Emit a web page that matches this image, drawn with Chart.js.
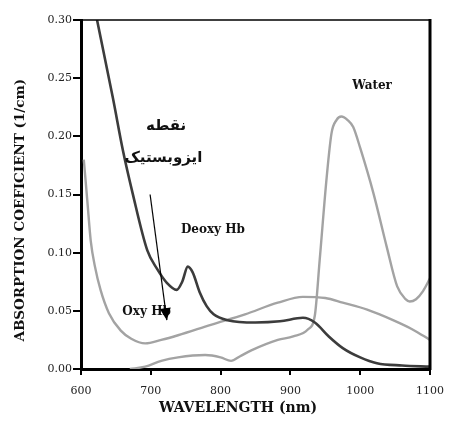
<!DOCTYPE html>
<html>
<head>
<meta charset="utf-8">
<script src="https://cdn.jsdelivr.net/npm/chart.js@4.4.1/dist/chart.umd.min.js"></script>
<style>
html,body{margin:0;padding:0;background:#fff;}
canvas{display:block;}
</style>
</head>
<body>
<canvas id="c" width="450" height="421"></canvas>
<script>
// ---- data (wavelength nm, absorption coefficient 1/cm) ----
const deoxyNm  = [623, 646, 660, 674, 695, 709, 723, 737, 745, 753, 760, 770, 780, 790, 810, 850, 885, 918, 935, 955, 975, 1000, 1024, 1060, 1100];
const deoxyVal = [0.30, 0.232, 0.188, 0.151, 0.102, 0.086, 0.074, 0.068, 0.075, 0.088, 0.083, 0.066, 0.054, 0.047, 0.042, 0.040, 0.041, 0.044, 0.040, 0.028, 0.018, 0.010, 0.005, 0.003, 0.002];

const oxyNm  = [604, 609, 614, 620, 628, 640, 657, 672, 692, 715, 739, 786, 835, 882, 918, 950, 975, 1010, 1047, 1075, 1100];
const oxyVal = [0.18, 0.145, 0.110, 0.088, 0.068, 0.048, 0.033, 0.026, 0.022, 0.025, 0.029, 0.038, 0.047, 0.057, 0.062, 0.061, 0.057, 0.051, 0.042, 0.034, 0.025];

const waterNm  = [670, 692, 715, 739, 778, 800, 815, 828, 844, 882, 904, 925, 935, 942, 952, 959, 966, 973, 982, 990, 1000, 1019, 1038, 1053, 1065, 1071, 1080, 1090, 1100];
const waterVal = [0.0, 0.002, 0.007, 0.010, 0.012, 0.010, 0.007, 0.011, 0.016, 0.025, 0.028, 0.034, 0.046, 0.094, 0.165, 0.203, 0.214, 0.217, 0.214, 0.208, 0.190, 0.151, 0.105, 0.071, 0.060, 0.058, 0.060, 0.067, 0.078];

const xTicks = [600, 700, 800, 900, 1000, 1100];
const yTicks = [0.00, 0.05, 0.10, 0.15, 0.20, 0.25, 0.30];

const xTitle = 'WAVELENGTH (nm)';
const yTitle = 'ABSORPTION COEFICIENT (1/cm)';

// annotation texts anchored in data coordinates
const labelTexts = ["Water", "Deoxy Hb", "Oxy Hb", "نقطه", "ایزوبستیک"];
const labelNm    = [1017, 789, 694, 722, 718];
const labelVal   = [0.243, 0.120, 0.049, 0.209, 0.181];
const arrowNm    = [699, 723];
const arrowVal   = [0.150, 0.042];

const toPts = (xs, ys) => xs.map((x, i) => ({x: x, y: ys[i]}));

const annotPlugin = {
  id: 'annot',
  afterDatasetsDraw(chart) {
    const {ctx, chartArea: a, scales: {x, y}} = chart;
    ctx.save();
    // frame: top and right
    ctx.strokeStyle = '#000';
    ctx.lineWidth = 1.5;
    ctx.beginPath();
    ctx.moveTo(a.left, a.top); ctx.lineTo(a.right, a.top);
    ctx.stroke();
    ctx.lineWidth = 3;
    ctx.beginPath();
    ctx.moveTo(a.right, a.top - 1); ctx.lineTo(a.right, a.bottom + 1);
    ctx.stroke();

    // axis titles
    ctx.fillStyle = '#111';
    ctx.textAlign = 'center';
    ctx.textBaseline = 'middle';
    ctx.font = 'bold 14px "DejaVu Serif", serif';
    ctx.fillText(xTitle, a.left + (a.right - a.left) * 0.45, 408);
    ctx.save();
    ctx.translate(20, a.top + (a.bottom - a.top) * 0.545);
    ctx.rotate(-Math.PI / 2);
    ctx.font = 'bold 13.5px "DejaVu Serif", serif';
    ctx.fillText(yTitle, 0, 0);
    ctx.restore();

    labelTexts.forEach((t, i) => {
      const px = x.getPixelForValue(labelNm[i]);
      const py = y.getPixelForValue(labelVal[i]);
      if (i < 3) ctx.font = 'bold 12px "DejaVu Serif", serif';
      else ctx.font = 'bold 15px "DejaVu Sans", sans-serif';
      ctx.fillText(t, px, py);
    });

    // arrow
    const x0 = x.getPixelForValue(arrowNm[0]), y0 = y.getPixelForValue(arrowVal[0]);
    const x1 = x.getPixelForValue(arrowNm[1]), y1 = y.getPixelForValue(arrowVal[1]);
    ctx.strokeStyle = '#000';
    ctx.lineWidth = 1.2;
    ctx.beginPath(); ctx.moveTo(x0, y0); ctx.lineTo(x1, y1); ctx.stroke();
    const ang = Math.atan2(y1 - y0, x1 - x0);
    const L = 12, W = 5.5;
    ctx.beginPath();
    ctx.moveTo(x1, y1);
    ctx.lineTo(x1 - L*Math.cos(ang) + W*Math.sin(ang), y1 - L*Math.sin(ang) - W*Math.cos(ang));
    ctx.lineTo(x1 - L*Math.cos(ang) - W*Math.sin(ang), y1 - L*Math.sin(ang) + W*Math.cos(ang));
    ctx.closePath();
    ctx.fillStyle = '#000';
    ctx.fill();
    ctx.restore();
  }
};

new Chart(document.getElementById('c'), {
  type: 'line',
  data: {
    datasets: [
      {label: 'Deoxy Hb', data: toPts(deoxyNm, deoxyVal), borderColor: '#3c3c3c', borderWidth: 2.6},
      {label: 'Oxy Hb', data: toPts(oxyNm, oxyVal), borderColor: '#a3a3a3', borderWidth: 2.4},
      {label: 'Water', data: toPts(waterNm, waterVal), borderColor: '#a3a3a3', borderWidth: 2.4}
    ]
  },
  options: {
    responsive: false,
    animation: false,
    devicePixelRatio: 1,
    layout: {padding: {left: 4, top: 20, right: 20, bottom: 0}},
    elements: {
      point: {radius: 0},
      line: {tension: 0.4, cubicInterpolationMode: 'monotone', fill: false}
    },
    plugins: {legend: {display: false}, tooltip: {enabled: false}},
    scales: {
      x: {
        type: 'linear', min: 600, max: 1100,
        afterBuildTicks: s => { s.ticks = xTicks.map(v => ({value: v})); },
        afterFit: s => { s.height = 52; s.paddingLeft = 0; s.paddingRight = 0; },
        ticks: {
          color: '#222', padding: 10,
          font: {family: '"DejaVu Serif", serif', size: 11},
          callback: v => String(v)
        },
        grid: {drawOnChartArea: false, drawTicks: true, tickLength: 6, color: '#000', lineWidth: 2},
        border: {display: true, color: '#000', width: 3},
        title: {display: false, text: xTitle}
      },
      y: {
        type: 'linear', min: 0, max: 0.30,
        afterBuildTicks: s => { s.ticks = yTicks.map(v => ({value: v})); },
        afterFit: s => { s.width = 77; s.paddingTop = 0; s.paddingBottom = 0; },
        ticks: {
          color: '#222', padding: 1,
          font: {family: '"DejaVu Serif", serif', size: 11},
          callback: v => Number(v).toFixed(2)
        },
        grid: {drawOnChartArea: false, drawTicks: true, tickLength: 8, color: '#000', lineWidth: 2},
        border: {display: true, color: '#000', width: 3},
        title: {display: false, text: yTitle}
      }
    }
  },
  plugins: [annotPlugin]
});
</script>
</body>
</html>
